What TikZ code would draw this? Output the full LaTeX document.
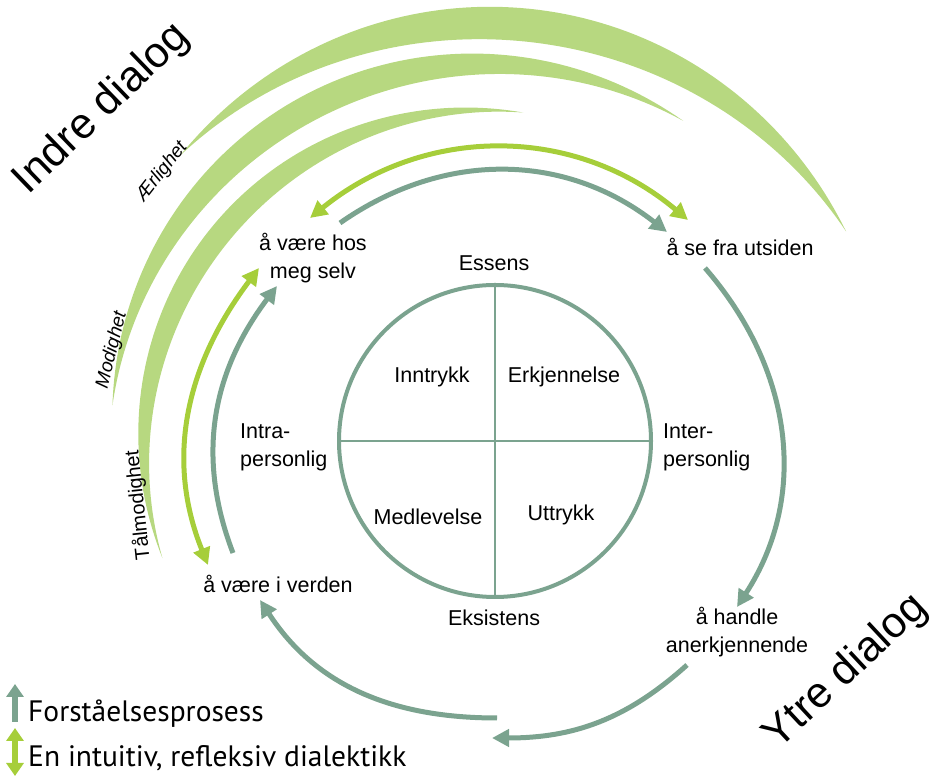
\documentclass[tikz,border=0pt]{standalone}
\usepackage{fontspec}
\setmainfont{Liberation Sans}
\newfontfamily\legendfont{PT Sans}
\usetikzlibrary{arrows.meta}
\definecolor{sage}{HTML}{7BA38F}
\definecolor{lime}{HTML}{A6CE3A}
\definecolor{leaf}{HTML}{B7D880}

\tikzset{
  lbl/.style={inner sep=0pt,font=\fontsize{21.5}{28}\selectfont,align=center},
  virtue/.style={inner sep=0pt,font=\fontsize{19}{22}\selectfont},
  big/.style={inner sep=0pt,font=\fontsize{43}{48}\selectfont},
  legend/.style={inner sep=0pt,anchor=base west,font=\legendfont\fontsize{29.5}{34}\selectfont},
  proc/.style={draw=sage,line width=5pt,-{Triangle[length=17pt,width=17pt]}},
  refl/.style={draw=lime,line width=5pt,{Triangle[length=17pt,width=17pt]}-{Triangle[length=17pt,width=17pt]}}
}

% center, radius, from angle, to angle, widest part
\newcommand{\sickle}[5]{%
  \fill[leaf,shift={#1}] plot[domain=#3:#4,samples=90] (\x:{#2+#5/2*sin((\x-#3)/(#4-#3)*180)})
    -- plot[domain=#4:#3,samples=90] (\x:{#2-#5/2*sin((\x-#3)/(#4-#3)*180)}) -- cycle;}

\begin{document}
\begin{tikzpicture}[x=1pt,y=1pt]
\useasboundingbox (0,0) rectangle (934,778);

\sickle{(485,338)}{417}{30}{137}{33}
\sickle{(485,340)}{374}{58}{175}{27}
\sickle{(482,330)}{338}{83}{199}{22}

\node[virtue,font=\itshape\fontsize{19}{22}\selectfont,rotate=52] (aer) at (162,606) {Ærlighet};
\node[virtue,font=\itshape\fontsize{19}{22}\selectfont,rotate=76] (mod) at (112,428) {Modighet};
\node[virtue,font=\fontsize{20}{22}\selectfont,rotate=96] (taal) at (138,273) {Tålmodighet};

\node[big,rotate=44] (indre) at (102,669) {Indre dialog};
\node[big,rotate=43] (ytre) at (846,106) {Ytre dialog};

\node[circle,draw=sage,line width=4pt,minimum size=312pt,inner sep=0pt] (core) at (495,337) {};
\draw[sage,line width=2.5pt] (core.north) -- (core.south);
\draw[sage,line width=2.5pt] (core.west) -- (core.east);

\node[lbl] (essens) at (494,515) {Essens};
\node[lbl] (eksistens) at (494,160) {Eksistens};
\node[lbl] (inntrykk) at (432,401) {Inntrykk};
\node[lbl] (erkj) at (564,401) {Erkjennelse};
\node[lbl] (medlev) at (428,261) {Medlevelse};
\node[lbl] (uttrykk) at (561,263) {Uttrykk};
\node[lbl,align=left,anchor=west] (intra) at (240,331) {Intra-\\personlig};
\node[lbl,align=left,anchor=west] (inter) at (663,331) {Inter-\\personlig};

\node[lbl] (hos) at (313,520) {å være hos\\meg selv};
\node[lbl] (utsiden) at (740,531) {å se fra utsiden};
\node[lbl] (handle) at (737,146) {å handle\\anerkjennende};
\node[lbl] (verden) at (278,194) {å være i verden};

\coordinate (a1s) at (340,555);
\coordinate (a1e) at (667,546);
\coordinate (a2s) at (705,510);
\coordinate (a2e) at (737,171);
\coordinate (a3s) at (687,113);
\coordinate (a3e) at (492,40);
\coordinate (a4s) at (497,60);
\coordinate (a4e) at (260,178);
\coordinate (a5s) at (233,225);
\coordinate (a5e) at (277,492);
\draw[proc] (a1s) to[out=35,in=142] (a1e);
\draw[proc] (a2s) to[out=-49,in=57] (a2e);
\draw[proc] (a3s) to[out=-138,in=0] (a3e);
\draw[proc] (a4s) to[out=180,in=-57] (a4e);
\draw[proc] (a5s) to[out=111,in=-127] (a5e);

\coordinate (b1s) at (310,560);
\coordinate (b1e) at (688,558);
\coordinate (b2s) at (259,510);
\coordinate (b2e) at (208,213);
\draw[refl] (b1s) to[out=39,in=140] (b1e);
\draw[refl] (b2s) to[out=-127,in=112] (b2e);

\coordinate (k1s) at (15,56);
\coordinate (k1e) at (15,94);
\coordinate (k2s) at (15,50);
\coordinate (k2e) at (15,2);
\draw[proc,line width=6pt,-{Triangle[length=13pt,width=17pt]}] (k1s) -- (k1e);
\draw[refl,line width=6pt,{Triangle[length=13pt,width=17pt]}-{Triangle[length=13pt,width=17pt]}] (k2s) -- (k2e);
\node[legend] (forst) at (28,56) {Forståelsesprosess};
\node[legend] (dial) at (28,11) {En intuitiv, refleksiv dialektikk};
\end{tikzpicture}
\end{document}
